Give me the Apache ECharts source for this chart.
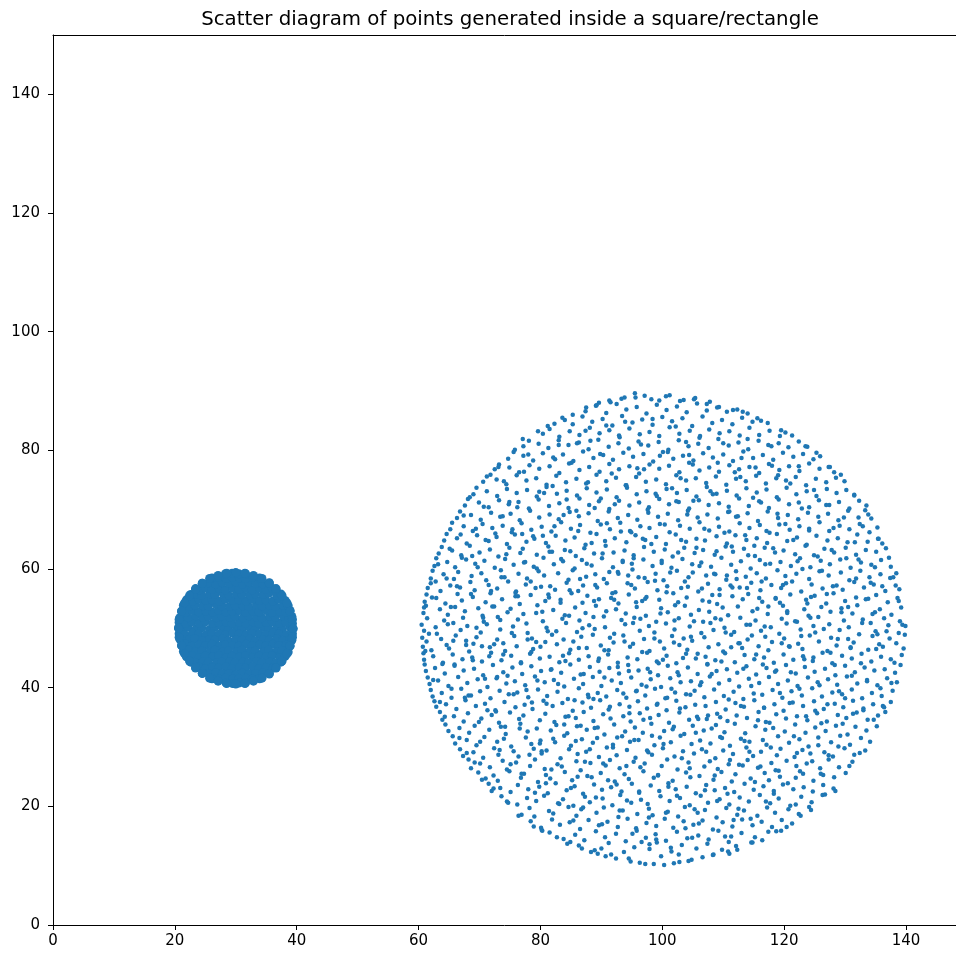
<!DOCTYPE html>
<html><head><meta charset="utf-8">
<script src="https://cdn.jsdelivr.net/npm/echarts@6/dist/echarts.min.js"></script>
<style>html,body{margin:0;padding:0;background:#fff}#c{width:956px;height:955px}</style>
</head><body><div id="c"></div>
<script>
const titleText = 'Scatter diagram of points generated inside a square/rectangle';
const xTicks = [0,20,40,60,80,100,120,140];
const yTicks = [0,20,40,60,80,100,120,140];

// dense disc around (30, 50)
const smallCircle = [
[20.6,50.1],[21.3,49.8],[22.2,50.2],[23.5,49.9],[24.4,50.1],[25.7,49.8],[26.6,50.2],[27.9,50.0],[28.8,49.8],[30.1,50.2],[31.0,49.9],[32.3,50.1],[33.2,49.8],[34.5,50.2],[35.4,49.9],[36.7,50.1],[37.6,49.8],[38.9,50.2],[39.4,49.9],
[20.7,51.0],[21.8,50.8],[22.8,51.1],[24.0,50.9],[25.0,51.1],[26.2,50.8],[27.2,51.0],[28.4,51.1],[29.4,50.8],[30.6,51.0],[31.6,50.9],[32.8,51.1],[33.8,50.8],[35.0,51.0],[36.0,51.1],[37.2,50.9],[38.2,51.0],[39.3,50.8],
[20.7,49.1],[21.7,48.9],[22.9,49.2],[23.9,49.0],[25.1,48.9],[26.1,49.1],[27.3,49.0],[28.3,48.9],[29.5,49.2],[30.5,49.0],[31.7,48.9],[32.7,49.1],[33.9,49.0],[34.9,48.9],[36.1,49.2],[37.1,49.0],[38.3,48.9],[39.3,49.1],
[20.8,51.8],[21.3,52.0],[22.2,51.8],[23.4,52.1],[24.6,51.9],[25.5,52.0],[26.8,51.8],[27.7,52.1],[29.0,51.9],[29.9,52.0],[31.2,51.8],[32.1,52.1],[33.4,51.9],[34.3,51.8],[35.6,52.0],[36.5,51.9],[37.8,52.1],[38.7,51.8],[39.2,52.0],
[20.8,48.2],[21.1,47.9],[22.4,48.1],[23.3,48.2],[24.5,47.9],[25.7,48.1],[26.6,48.0],[27.9,48.2],[28.8,47.9],[30.0,48.1],[31.0,48.0],[32.3,48.2],[33.2,47.9],[34.5,48.1],[35.5,48.0],[36.7,48.2],[37.7,47.9],[38.9,48.1],[39.2,48.0],
[21.1,52.9],[21.8,52.7],[22.9,53.0],[23.9,52.8],[25.1,52.9],[26.2,52.7],[27.2,53.0],[28.4,52.8],[29.4,52.9],[30.6,53.0],[31.6,52.7],[32.8,52.9],[33.8,52.8],[35.0,53.0],[36.0,52.7],[37.2,52.9],[38.2,52.8],[38.9,53.0],
[21.1,47.1],[21.7,47.3],[22.8,47.0],[24.0,47.2],[25.0,47.1],[26.1,47.3],[27.3,47.0],[28.3,47.2],[29.5,47.1],[30.5,47.0],[31.7,47.3],[32.7,47.1],[33.9,47.2],[34.9,47.0],[36.1,47.3],[37.1,47.1],[38.3,47.2],[38.9,47.0],
[21.4,53.9],[22.4,53.7],[23.3,53.9],[24.6,53.8],[25.5,53.7],[26.8,54.0],[27.7,53.8],[29.0,53.7],[29.9,53.9],[31.2,53.8],[32.1,53.7],[33.4,54.0],[34.3,53.8],[35.6,53.9],[36.5,53.7],[37.8,53.9],[38.6,53.8],
[21.4,46.1],[22.2,46.3],[23.5,46.1],[24.4,46.2],[25.7,46.0],[26.6,46.3],[27.9,46.1],[28.8,46.2],[30.1,46.0],[31.0,46.3],[32.3,46.1],[33.2,46.2],[34.5,46.0],[35.4,46.3],[36.7,46.1],[37.6,46.2],[38.6,46.0],
[21.9,54.8],[22.9,54.6],[23.9,54.9],[25.1,54.7],[26.1,54.8],[27.3,54.6],[28.3,54.9],[29.5,54.7],[30.5,54.8],[31.7,54.6],[32.7,54.9],[33.9,54.7],[34.9,54.8],[36.1,54.6],[37.1,54.9],[38.1,54.7],
[21.9,45.2],[22.8,45.4],[24.0,45.1],[25.0,45.3],[26.2,45.2],[27.2,45.4],[28.4,45.1],[29.4,45.3],[30.6,45.2],[31.6,45.4],[32.8,45.1],[33.8,45.3],[35.0,45.2],[36.0,45.4],[37.2,45.1],[38.1,45.3],
[22.6,55.7],[23.5,55.8],[24.4,55.6],[25.7,55.8],[26.6,55.7],[27.9,55.9],[28.8,55.6],[30.1,55.8],[31.0,55.7],[32.3,55.6],[33.2,55.8],[34.5,55.7],[35.4,55.9],[36.7,55.6],[37.4,55.8],
[22.6,44.3],[23.3,44.2],[24.6,44.4],[25.5,44.3],[26.8,44.1],[27.7,44.3],[29.0,44.4],[29.9,44.2],[31.2,44.3],[32.1,44.1],[33.4,44.4],[34.3,44.2],[35.6,44.3],[36.5,44.1],[37.4,44.3],
[23.4,56.7],[24.0,56.5],[25.1,56.8],[26.1,56.6],[27.3,56.7],[28.3,56.5],[29.5,56.8],[30.5,56.6],[31.7,56.7],[32.7,56.5],[33.9,56.8],[34.9,56.6],[36.0,56.7],[36.6,56.6],
[23.4,43.3],[23.9,43.5],[25.0,43.2],[26.2,43.4],[27.2,43.3],[28.4,43.5],[29.4,43.2],[30.6,43.4],[31.6,43.3],[32.8,43.5],[33.8,43.2],[35.0,43.4],[36.1,43.3],[36.6,43.4],
[24.5,57.6],[25.6,57.7],[26.7,57.5],[27.8,57.7],[28.9,57.6],[30.0,57.8],[31.1,57.5],[32.2,57.7],[33.3,57.6],[34.4,57.5],[35.5,57.7],
[24.5,42.4],[25.6,42.3],[26.7,42.5],[27.8,42.3],[28.9,42.4],[30.0,42.2],[31.1,42.5],[32.2,42.3],[33.3,42.4],[34.4,42.5],[35.5,42.3],
[26.1,58.5],[27.2,58.6],[28.4,58.4],[29.4,58.6],[30.6,58.5],[31.6,58.4],[32.8,58.6],[33.9,58.5],
[26.1,41.5],[27.3,41.4],[28.3,41.6],[29.5,41.4],[30.5,41.5],[31.7,41.6],[32.7,41.4],[33.9,41.5],
[28.3,59.2],[29.4,59.3],[30.5,59.2],[31.6,59.2],
[28.4,40.8],[29.5,40.7],[30.6,40.8],[31.6,40.8],
[39.4,50.0],[39.3,51.5],[38.9,52.9],[38.4,54.3],[37.6,55.5],[36.6,56.7],[35.5,57.6],[34.3,58.4],[32.9,58.9],[31.5,59.3],[30.0,59.4],[28.5,59.3],[27.1,58.9],[25.7,58.4],[24.5,57.6],[23.4,56.6],[22.4,55.5],[21.6,54.3],[21.1,52.9],[20.7,51.5],
[20.6,50.0],[20.7,48.5],[21.1,47.1],[21.6,45.7],[22.4,44.5],[23.4,43.4],[24.5,42.4],[25.7,41.6],[27.1,41.1],[28.5,40.7],[30.0,40.6],[31.5,40.7],[32.9,41.1],[34.3,41.6],[35.5,42.4],[36.6,43.3],[37.6,44.5],[38.4,45.7],[38.9,47.1],[39.3,48.5]
];

// sparse disc around (100, 50), read row by row
const bigCircle = [
[97.2,10.3],[101.9,10.4],[94.5,11.2],[104.8,11.0],[108.3,11.8],[91.6,11.9],[99.8,11.6],[102.7,11.9],[111.0,12.0],[89.4,12.0],
[86.3,13.4],[88.9,12.6],[91.2,13.8],[93.7,12.3],[95.4,13.1],[97.9,12.8],[99.1,13.9],[101.5,12.4],[103.2,13.5],[105.6,12.9],[107.4,13.7],[109.8,12.7],[112.1,13.3],[114.6,13.9],[84.9,14.0],[96.6,14.0],[110.9,14.0],[90.0,12.9],
[81.5,15.6],[83.8,14.5],[85.7,15.2],[87.2,14.3],[89.1,15.8],[90.6,14.8],[92.4,15.4],[94.0,14.1],[95.8,15.9],[97.3,14.7],[98.9,15.3],[100.6,14.2],[102.4,15.7],[104.1,14.6],[105.9,15.1],[107.6,14.4],[109.2,15.9],[111.3,14.9],[113.0,15.5],[115.2,14.8],[117.4,15.7],[119.5,15.9],[80.2,16.0],
[78.4,17.5],[80.1,16.4],[81.9,17.8],[83.2,16.9],[84.8,17.3],[86.5,16.2],[87.9,17.7],[89.6,16.8],[91.0,17.4],[92.7,16.5],[94.3,17.9],[95.7,16.3],[97.4,17.2],[99.0,16.7],[100.4,17.9],[101.8,16.4],[103.5,17.5],[105.1,16.9],[106.6,17.6],[108.3,16.1],[109.9,17.3],[111.5,16.6],[113.1,17.8],[114.8,16.8],[116.3,17.4],[118.0,16.5],[119.6,17.7],[121.3,17.1],
[76.9,18.6],[78.2,19.7],[79.0,18.3],[81.4,19.2],[82.1,18.8],[84.6,19.9],[85.9,18.4],[86.7,19.5],[89.2,18.9],[90.4,19.8],[92.8,18.2],[93.5,19.3],[95.9,18.7],[97.8,19.6],[98.4,18.5],[100.9,19.1],[102.6,18.3],[103.7,19.9],[105.8,18.9],[107.0,19.4],[108.9,18.1],[110.5,19.7],[112.3,18.6],[113.4,19.3],[115.6,18.4],[117.2,19.8],[118.5,18.9],[120.7,19.5],[122.4,18.7],[124.1,19.9],
[74.5,20.8],[73.6,21.7],[76.2,20.3],[77.8,21.4],[79.3,20.9],[80.6,21.8],[82.9,20.5],[83.7,21.2],[85.4,20.1],[87.3,21.6],[88.1,20.7],[90.2,21.3],[91.8,20.2],[93.1,21.9],[94.9,20.6],[96.5,21.1],[97.6,20.4],[99.7,21.7],[101.2,20.9],[102.9,21.4],[104.5,20.2],[106.3,21.8],[107.5,20.6],[109.4,21.2],[111.0,20.3],[112.7,21.5],[114.2,20.8],[116.0,21.9],[117.7,20.5],[119.1,21.3],[121.0,20.1],[122.8,21.6],[124.5,20.7],[126.3,21.9],
[72.0,22.6],[71.5,23.8],[73.4,23.1],[75.1,22.4],[76.3,23.6],[78.0,22.9],[79.8,23.3],[81.2,22.2],[82.5,23.9],[84.3,22.7],[85.6,23.4],[87.0,22.1],[88.8,23.7],[90.1,22.8],[91.6,23.2],[93.3,22.5],[95.0,23.8],[96.2,22.3],[98.1,23.5],[99.5,22.6],[101.0,23.9],[102.2,22.9],[104.0,23.3],[105.5,22.2],[107.2,23.6],[108.6,22.7],[110.3,23.1],[111.8,22.4],[113.5,23.8],[115.0,22.8],[116.6,23.4],[118.3,22.1],[119.8,23.7],[121.5,22.9],[123.2,23.2],[124.7,22.5],[126.4,23.6],[128.1,23.0],
[70.4,24.5],[69.8,25.7],[72.3,25.2],[73.0,24.3],[74.9,25.9],[76.8,24.8],[77.3,25.5],[79.6,24.1],[80.9,25.3],[81.6,24.7],[84.0,25.8],[85.2,24.4],[87.7,25.1],[88.4,24.9],[89.9,25.6],[92.2,24.2],[93.8,25.4],[94.5,24.6],[96.9,25.9],[98.6,24.8],[99.3,25.2],[101.7,24.3],[103.9,25.7],[104.6,24.9],[106.1,25.1],[108.4,24.5],[109.7,25.8],[111.4,24.2],[112.0,25.4],[114.5,24.7],[116.8,25.6],[117.5,24.4],[119.3,25.0],[121.9,24.8],[122.6,25.9],[124.8,24.3],[126.0,25.5],[128.2,24.9],[130.1,25.6],
[68.6,26.4],[68.2,27.9],[70.1,27.2],[71.7,26.6],[73.8,27.7],[74.5,26.2],[76.0,27.4],[78.3,26.8],[79.1,27.9],[80.7,26.3],[82.8,27.1],[83.5,26.7],[85.9,27.6],[86.6,26.1],[88.2,27.3],[90.7,26.9],[91.4,27.8],[93.0,26.4],[95.3,27.5],[96.4,26.6],[97.1,27.2],[99.9,26.8],[100.8,27.9],[102.5,26.2],[104.3,27.4],[106.9,26.7],[107.8,27.6],[109.1,26.3],[110.9,27.1],[113.2,26.9],[114.0,27.8],[115.7,26.5],[117.9,27.3],[118.6,26.1],[120.4,27.7],[122.0,26.8],[123.7,27.2],[125.9,26.4],[127.3,27.9],[129.0,26.6],[131.2,27.5],
[67.3,28.5],[66.8,29.6],[69.0,29.1],[70.6,28.2],[72.4,29.8],[73.1,28.7],[75.6,29.3],[76.4,28.4],[78.9,29.7],[80.2,28.9],[81.0,29.4],[83.3,28.1],[84.7,29.6],[86.1,28.8],[87.5,29.2],[89.6,28.3],[90.9,29.9],[92.5,28.6],[94.2,29.5],[95.6,28.2],[97.7,29.1],[98.3,28.7],[100.1,29.8],[102.0,28.4],[103.4,29.3],[105.2,28.9],[106.5,29.6],[108.7,28.1],[110.0,29.4],[111.6,28.8],[113.8,29.9],[114.9,28.5],[116.2,29.2],[118.8,28.6],[119.4,29.7],[121.7,28.3],[123.0,29.5],[124.3,28.9],[126.6,29.1],[128.0,28.4],[129.9,29.8],[131.5,28.7],[133.3,29.4],
[66.0,30.6],[65.6,31.8],[67.9,31.2],[69.5,30.3],[70.8,31.7],[72.9,30.9],[74.0,31.4],[75.2,30.1],[77.6,31.6],[78.5,30.5],[80.0,31.1],[82.4,30.8],[83.9,31.9],[85.0,30.2],[86.8,31.3],[88.6,30.7],[89.3,31.5],[91.9,30.4],[93.4,31.8],[94.7,30.9],[96.1,31.2],[98.7,30.3],[99.6,31.6],[101.4,30.8],[103.0,31.9],[104.8,30.5],[106.2,31.1],[107.9,30.6],[109.5,31.7],[111.1,30.2],[112.9,31.4],[114.3,30.9],[116.5,31.2],[117.1,30.4],[119.0,31.8],[120.8,30.7],[122.5,31.3],[124.0,30.1],[125.6,31.6],[127.7,30.8],[129.2,31.9],[130.8,30.4],[132.6,31.5],[134.1,30.9],
[64.9,32.7],[64.4,33.8],[66.7,33.2],[68.3,32.4],[69.2,33.6],[71.6,32.9],[73.5,33.4],[74.3,32.2],[76.7,33.9],[77.9,32.6],[79.4,33.1],[81.7,32.8],[82.6,33.7],[84.4,32.3],[86.0,33.5],[87.6,32.9],[88.9,33.2],[90.5,32.1],[92.1,33.8],[93.9,32.6],[95.5,33.3],[96.8,32.4],[98.2,33.9],[100.3,32.7],[101.9,33.4],[103.6,32.2],[105.0,33.6],[106.8,32.8],[108.1,33.1],[110.2,32.5],[111.9,33.9],[113.6,32.3],[115.3,33.5],[116.9,32.9],[118.2,33.2],[120.1,32.6],[121.8,33.8],[123.5,32.4],[125.1,33.3],[126.8,32.7],[128.5,33.6],[130.4,32.1],[131.7,33.4],[133.5,32.8],[135.2,33.5],
[63.9,34.6],[63.5,35.9],[65.8,35.2],[67.4,34.3],[68.1,35.7],[70.3,34.8],[72.0,35.4],[73.2,34.1],[75.0,35.8],[76.5,34.7],[77.2,35.3],[79.9,34.5],[80.8,35.6],[82.3,34.2],[84.1,35.1],[85.8,34.9],[87.1,35.9],[88.7,34.4],[90.3,35.5],[91.5,34.8],[93.6,35.2],[94.8,34.3],[96.3,35.7],[98.0,34.9],[99.4,35.4],[101.1,34.1],[102.8,35.8],[104.4,34.6],[105.7,35.1],[107.3,34.7],[109.0,35.6],[110.7,34.4],[112.2,35.3],[113.9,34.9],[115.8,35.9],[117.0,34.2],[118.7,35.5],[120.3,34.8],[122.1,35.2],[123.8,34.5],[125.4,35.7],[127.0,34.3],[128.8,35.4],[130.2,34.9],[131.9,35.8],[133.7,34.6],[135.4,35.3],[136.6,35.9],
[62.9,36.8],[62.6,37.7],[64.5,37.2],[66.2,36.4],[67.7,37.9],[69.4,36.9],[70.9,37.3],[72.6,36.2],[74.1,37.6],[75.9,36.7],[77.4,37.1],[78.7,36.4],[80.5,37.8],[82.0,36.9],[83.6,37.4],[85.3,36.1],[86.9,37.5],[88.3,36.6],[89.8,37.9],[91.2,36.3],[93.0,37.2],[94.6,36.8],[96.0,37.7],[97.5,36.5],[99.2,37.3],[100.7,36.2],[102.3,37.8],[103.8,36.7],[105.4,37.1],[107.1,36.9],[108.8,37.6],[110.4,36.3],[112.0,37.4],[113.4,36.8],[115.1,37.9],[116.7,36.6],[118.4,37.2],[119.9,36.1],[121.4,37.5],[123.1,36.9],[124.9,37.7],[126.5,36.4],[128.3,37.3],[129.7,36.7],[131.3,37.8],[133.0,36.5],[134.6,37.2],[136.2,36.9],[137.5,37.6],
[62.3,38.5],[62.0,39.6],[63.8,39.1],[65.4,38.3],[67.0,39.8],[68.6,38.7],[70.1,39.4],[71.8,38.2],[73.3,39.5],[74.8,38.9],[76.2,39.2],[78.0,38.4],[79.6,39.7],[81.1,38.6],[82.8,39.3],[84.5,38.1],[86.3,39.9],[87.8,38.8],[89.4,39.1],[90.8,38.5],[92.6,39.6],[94.1,38.3],[95.7,39.4],[97.2,38.7],[98.8,39.8],[100.5,38.2],[102.1,39.2],[103.9,38.9],[105.3,39.5],[106.9,38.4],[108.5,39.7],[110.1,38.6],[111.7,39.3],[113.3,38.1],[115.0,39.0],[116.4,38.8],[118.1,39.6],[119.7,38.3],[121.2,39.4],[122.9,38.7],[124.6,39.9],[126.2,38.5],[127.9,39.2],[129.5,38.9],[131.1,39.7],[132.8,38.2],[134.4,39.1],[136.0,38.6],[137.8,39.5],
[61.8,40.6],[61.5,41.7],[63.2,41.2],[64.9,40.3],[66.5,41.8],[68.0,40.8],[69.7,41.4],[71.3,40.1],[72.8,41.6],[74.4,40.7],[75.8,41.1],[77.5,40.4],[79.1,41.9],[80.7,40.9],[82.2,41.3],[83.9,40.2],[85.5,41.5],[87.0,40.6],[88.6,41.8],[90.0,40.3],[91.7,41.2],[93.2,40.8],[94.9,41.7],[96.6,40.5],[98.1,41.4],[99.8,40.1],[101.3,41.6],[103.0,40.9],[104.7,41.1],[106.2,40.4],[107.8,41.9],[109.3,40.7],[111.0,41.3],[112.6,40.2],[114.2,41.5],[115.9,40.8],[117.5,41.8],[119.0,40.6],[120.6,41.2],[122.2,40.3],[123.9,41.7],[125.5,40.9],[127.2,41.4],[128.7,40.5],[130.3,41.9],[132.0,40.7],[133.6,41.1],[135.3,40.4],[136.9,41.6],[138.5,40.9],
[61.2,42.8],[61.0,43.9],[62.7,43.3],[64.3,42.4],[65.9,43.7],[67.4,42.9],[69.1,43.2],[70.6,42.1],[72.2,43.8],[73.9,42.6],[75.4,43.4],[77.0,42.3],[78.5,43.6],[80.1,42.8],[81.8,43.1],[83.4,42.5],[84.9,43.9],[86.6,42.2],[88.1,43.5],[89.7,42.7],[91.3,43.3],[92.9,42.4],[94.4,43.8],[96.1,42.9],[97.6,43.2],[99.3,42.1],[100.9,43.7],[102.5,42.6],[104.2,43.4],[105.8,42.3],[107.4,43.9],[108.9,42.8],[110.6,43.1],[112.3,42.5],[113.8,43.6],[115.4,42.2],[117.1,43.3],[118.7,42.9],[120.3,43.8],[121.9,42.4],[123.4,43.5],[125.0,42.7],[126.7,43.2],[128.4,42.1],[130.0,43.7],[131.6,42.6],[133.2,43.4],[134.8,42.9],[136.5,43.1],[138.2,42.5],[139.1,43.8],
[60.9,44.7],[60.8,45.8],[62.4,45.3],[64.0,44.2],[65.6,45.6],[67.2,44.8],[68.8,45.1],[70.4,44.4],[71.9,45.9],[73.6,44.6],[75.2,45.4],[76.8,44.1],[78.3,45.7],[79.9,44.9],[81.5,45.2],[83.1,44.3],[84.7,45.8],[86.3,44.7],[87.9,45.3],[89.5,44.5],[91.1,45.6],[92.7,44.2],[94.3,45.1],[95.9,44.8],[97.5,45.9],[99.1,44.4],[100.7,45.4],[102.3,44.1],[103.9,45.7],[105.5,44.9],[107.1,45.2],[108.7,44.6],[110.3,45.8],[111.9,44.3],[113.5,45.5],[115.1,44.8],[116.7,45.1],[118.3,44.2],[119.9,45.6],[121.5,44.7],[123.1,45.3],[124.7,44.5],[126.3,45.9],[127.9,44.1],[129.5,45.4],[131.1,44.9],[132.7,45.7],[134.3,44.4],[135.9,45.2],[137.5,44.8],[139.3,45.5],
[60.7,46.9],[61.3,47.8],[62.1,46.3],[64.6,47.2],[65.0,46.6],[67.8,47.9],[68.3,46.1],[69.0,47.4],[71.7,46.8],[73.9,47.5],[74.2,46.2],[76.1,47.0],[78.8,46.5],[79.3,47.7],[80.0,46.9],[82.7,47.3],[84.9,46.4],[85.4,47.8],[87.6,46.7],[89.9,47.1],[90.5,46.3],[92.0,47.6],[94.7,46.9],[95.2,47.4],[97.9,46.2],[99.6,47.8],[100.3,46.6],[102.8,47.2],[104.1,46.4],[104.9,47.9],[107.6,46.8],[109.2,47.3],[110.0,46.1],[112.5,47.5],[113.1,46.7],[115.8,47.0],[117.4,46.3],[118.0,47.7],[120.9,46.9],[122.3,47.4],[123.0,46.5],[125.7,47.8],[127.1,46.2],[128.6,47.1],[130.9,46.8],[131.4,47.6],[133.8,46.4],[135.6,47.3],[136.2,46.9],[138.4,47.5],[139.6,46.6],
[60.6,48.4],[60.9,49.6],[63.0,49.1],[63.7,48.2],[66.1,48.8],[66.9,49.7],[69.5,48.5],[70.2,49.3],[72.9,48.1],[73.4,49.8],[75.7,48.7],[77.9,49.2],[78.6,48.3],[81.2,49.5],[81.9,48.9],[83.8,48.1],[86.0,49.4],[86.7,48.6],[88.9,49.9],[91.4,48.4],[92.1,49.1],[93.6,48.8],[96.3,49.6],[97.0,48.2],[98.7,49.3],[101.6,48.7],[102.0,49.8],[103.5,48.3],[106.4,49.2],[106.9,48.5],[108.4,49.7],[111.3,48.9],[111.8,49.4],[114.0,48.1],[116.2,49.6],[116.9,48.6],[119.2,49.1],[120.0,48.3],[122.7,49.8],[124.2,48.8],[125.1,49.3],[127.7,48.4],[129.1,49.7],[130.5,48.2],[132.3,49.0],[134.5,48.7],[135.0,49.5],[137.3,48.3],[138.8,49.2],[139.8,48.9],
[60.5,50.6],[61.4,51.7],[62.8,50.2],[64.2,51.3],[65.7,50.9],[67.3,51.8],[68.0,50.4],[70.7,51.1],[71.2,50.7],[73.0,51.9],[75.5,50.3],[76.3,51.5],[77.7,50.8],[80.4,51.2],[81.0,50.1],[83.6,51.6],[84.2,50.9],[86.4,51.3],[88.0,50.5],[88.7,51.9],[90.6,50.2],[93.3,51.4],[93.9,50.7],[95.4,51.8],[97.8,50.4],[99.0,51.1],[100.6,50.8],[102.7,51.7],[104.5,50.3],[105.2,51.2],[107.9,50.9],[109.6,51.5],[110.2,50.1],[112.8,51.8],[114.4,50.6],[115.3,51.3],[117.8,50.2],[119.6,51.6],[120.4,50.8],[122.1,51.1],[124.8,50.4],[125.6,51.9],[127.4,50.7],[129.8,51.3],[130.6,50.2],[132.9,51.5],[134.2,50.9],[136.4,51.7],[137.1,50.5],[139.0,51.2],[139.9,50.4],
[60.8,52.6],[61.2,53.8],[63.5,53.2],[64.8,52.3],[65.3,53.6],[67.6,52.9],[69.8,53.4],[70.5,52.1],[72.4,53.7],[74.6,52.7],[75.1,53.3],[77.2,52.4],[79.5,53.9],[80.3,52.8],[82.1,53.1],[84.0,52.2],[85.7,53.5],[87.4,52.6],[89.1,53.8],[90.8,52.9],[92.4,53.2],[94.0,52.5],[95.8,53.6],[97.3,52.1],[99.8,53.4],[100.9,52.7],[102.1,53.9],[104.7,52.3],[106.0,53.1],[107.7,52.8],[109.9,53.5],[110.8,52.2],[112.4,53.7],[114.8,52.9],[115.6,53.3],[117.3,52.4],[119.8,53.8],[120.5,52.6],[123.3,53.2],[124.0,52.1],[126.1,53.6],[127.6,52.8],[129.4,53.4],[131.2,52.5],[132.0,53.9],[134.9,52.7],[135.7,53.2],[137.6,52.3],[139.2,53.5],
[61.0,54.5],[61.3,55.7],[62.9,55.1],[64.4,54.2],[66.4,55.8],[67.1,54.7],[68.9,55.3],[71.0,54.4],[71.8,55.9],[73.7,54.9],[75.9,55.4],[76.6,54.1],[78.4,55.6],[80.8,54.6],[81.4,55.2],[83.3,54.8],[85.1,55.9],[86.9,54.3],[87.7,55.5],[89.6,54.9],[91.6,55.1],[92.8,54.2],[94.5,55.7],[96.7,54.6],[97.4,55.3],[99.5,54.8],[101.8,55.9],[102.6,54.4],[104.0,55.2],[106.6,54.7],[108.2,55.6],[109.0,54.1],[111.5,55.4],[113.2,54.9],[114.1,55.8],[116.4,54.5],[118.6,55.1],[119.3,54.3],[121.0,55.7],[123.6,54.8],[124.4,55.3],[126.9,54.2],[128.1,55.9],[130.0,54.6],[131.8,55.2],[133.4,54.9],[135.1,55.6],[137.0,54.4],[138.6,55.1],
[61.5,56.8],[62.0,57.6],[63.6,56.3],[65.2,57.2],[66.8,56.9],[68.5,57.8],[69.2,56.4],[71.5,57.3],[72.9,56.7],[74.7,57.9],[76.0,56.2],[77.6,57.4],[79.2,56.8],[81.6,57.1],[82.4,56.5],[84.3,57.7],[86.2,56.3],[87.0,57.2],[89.3,56.9],[90.9,57.6],[92.3,56.1],[94.9,57.3],[95.5,56.7],[97.6,57.8],[99.2,56.4],[100.8,57.1],[103.1,56.8],[103.7,57.9],[105.9,56.2],[107.5,57.5],[109.4,56.6],[111.2,57.2],[112.7,56.9],[114.6,57.7],[116.1,56.4],[117.9,57.3],[119.5,56.8],[121.3,57.9],[122.8,56.2],[124.5,57.4],[126.3,56.7],[128.0,57.1],[129.6,56.5],[131.5,57.8],[133.1,56.9],[134.7,57.4],[136.6,56.3],[138.3,57.2],[138.9,56.6],
[62.0,58.4],[62.3,59.7],[64.1,59.1],[65.8,58.3],[66.5,59.5],[68.7,58.8],[70.3,59.3],[71.1,58.1],[73.5,59.8],[74.1,58.6],[76.4,59.2],[77.8,58.4],[79.7,59.6],[80.6,58.9],[82.9,59.3],[84.6,58.2],[85.3,59.8],[87.5,58.7],[89.0,59.1],[90.4,58.3],[92.7,59.5],[94.4,58.9],[95.1,59.9],[97.1,58.5],[98.9,59.2],[100.2,58.1],[102.4,59.7],[104.3,58.6],[105.0,59.4],[107.2,58.9],[108.7,59.1],[110.5,58.2],[112.1,59.6],[113.7,58.7],[115.5,59.3],[117.0,58.4],[118.9,59.8],[120.2,58.8],[122.0,59.2],[124.1,58.3],[125.8,59.6],[127.3,58.9],[129.3,59.4],[130.7,58.1],[132.5,59.7],[134.0,58.6],[135.8,59.1],[137.4,58.5],[138.4,59.3],
[62.6,60.5],[62.9,61.8],[64.7,61.2],[66.0,60.3],[67.8,61.6],[69.3,60.9],[70.8,61.4],[72.5,60.2],[74.2,61.7],[75.6,60.7],[77.3,61.1],[78.9,60.4],[80.5,61.9],[82.2,60.8],[83.7,61.3],[85.6,60.1],[86.8,61.5],[88.4,60.6],[90.1,61.8],[91.9,60.3],[93.5,61.2],[95.0,60.9],[96.9,61.6],[98.4,60.5],[99.9,61.4],[101.5,60.2],[103.3,61.7],[104.9,60.8],[106.4,61.1],[108.0,60.4],[109.7,61.9],[111.3,60.7],[112.9,61.3],[114.5,60.1],[116.0,61.5],[117.7,60.9],[119.4,61.2],[121.1,60.5],[122.6,61.8],[124.3,60.3],[126.0,61.4],[127.5,60.8],[129.2,61.6],[130.9,60.2],[132.6,61.1],[134.3,60.7],[135.9,61.5],[137.5,60.4],
[63.3,62.6],[63.8,63.7],[65.5,63.1],[67.0,62.3],[68.4,63.9],[70.0,62.8],[71.7,63.3],[73.1,62.1],[74.9,63.6],[76.7,62.7],[77.1,63.4],[79.4,62.4],[81.3,63.8],[81.9,62.9],[84.0,63.2],[85.8,62.2],[87.2,63.5],[88.8,62.6],[90.7,63.9],[92.0,62.8],[93.8,63.1],[95.3,62.3],[97.0,63.7],[98.6,62.9],[100.4,63.3],[101.7,62.1],[103.6,63.6],[105.3,62.7],[106.7,63.2],[108.6,62.4],[110.4,63.8],[111.6,62.9],[113.4,63.4],[115.2,62.2],[116.8,63.6],[118.5,62.8],[119.9,63.1],[121.8,62.5],[123.5,63.9],[124.9,62.3],[126.6,63.4],[128.2,62.8],[130.1,63.6],[131.8,62.4],[133.4,63.2],[135.1,62.9],[136.7,63.5],
[64.2,64.8],[64.6,65.9],[66.3,65.2],[67.9,64.3],[69.6,65.7],[71.0,64.9],[72.8,65.4],[74.5,64.2],[75.8,65.8],[77.7,64.6],[79.0,65.1],[80.9,64.4],[82.5,65.6],[84.1,64.8],[85.6,65.3],[87.4,64.1],[89.2,65.9],[90.6,64.7],[92.2,65.2],[94.1,64.5],[95.6,65.7],[97.2,64.9],[99.0,65.4],[100.6,64.2],[102.2,65.8],[103.9,64.6],[105.6,65.1],[107.0,64.8],[108.9,65.5],[110.6,64.3],[112.0,65.7],[113.8,64.9],[115.5,65.2],[117.2,64.4],[118.8,65.9],[120.5,64.7],[122.1,65.3],[123.7,64.1],[125.3,65.6],[127.1,64.8],[128.8,65.2],[130.4,64.5],[132.0,65.8],[133.7,64.6],[135.4,65.1],[136.1,64.3],
[65.2,66.7],[65.5,67.8],[67.4,67.2],[68.9,66.4],[70.5,67.6],[72.1,66.9],[73.8,67.3],[75.3,66.2],[76.9,67.7],[78.5,66.6],[80.2,67.1],[81.8,66.3],[83.4,67.9],[85.0,66.8],[86.5,67.4],[88.2,66.1],[89.9,67.5],[91.4,66.7],[93.1,67.8],[94.7,66.4],[96.4,67.2],[97.9,66.9],[99.6,67.6],[101.2,66.2],[102.9,67.3],[104.5,66.8],[106.1,67.9],[107.7,66.5],[109.3,67.1],[111.0,66.3],[112.7,67.7],[114.3,66.9],[116.0,67.4],[117.6,66.1],[119.2,67.5],[120.9,66.6],[122.5,67.2],[124.1,66.8],[125.8,67.9],[127.4,66.4],[129.1,67.3],[130.7,66.7],[132.4,67.6],[134.0,66.2],[135.3,67.0],
[66.3,68.6],[66.8,69.7],[68.6,69.1],[70.2,68.3],[71.9,69.5],[73.4,68.8],[75.1,69.3],[76.6,68.2],[78.3,69.8],[79.8,68.7],[81.5,69.2],[83.0,68.4],[84.8,69.6],[86.3,68.9],[87.9,69.4],[89.4,68.1],[91.2,69.7],[92.7,68.6],[94.4,69.1],[95.9,68.3],[97.7,69.5],[99.3,68.8],[100.9,69.3],[102.6,68.2],[104.2,69.8],[105.8,68.7],[107.4,69.2],[109.1,68.5],[110.8,69.6],[112.4,68.9],[114.0,69.4],[115.7,68.1],[117.3,69.7],[119.0,68.6],[120.6,69.1],[122.3,68.4],[123.9,69.5],[125.6,68.8],[127.2,69.3],[128.9,68.2],[130.5,69.8],[132.2,68.7],[133.8,69.2],[134.3,68.5],
[67.6,70.7],[68.1,71.8],[69.9,71.2],[71.5,70.4],[73.2,71.6],[74.8,70.9],[76.4,71.3],[78.1,70.2],[79.7,71.7],[81.4,70.6],[83.1,71.1],[84.6,70.3],[86.4,71.9],[88.0,70.8],[89.6,71.4],[91.3,70.1],[92.9,71.5],[94.6,70.7],[96.2,71.2],[97.8,70.4],[99.5,71.8],[101.1,70.9],[102.7,71.3],[104.4,70.2],[106.0,71.6],[107.6,70.8],[109.3,71.1],[110.9,70.5],[112.6,71.9],[114.2,70.6],[115.9,71.4],[117.5,70.3],[119.1,71.7],[120.8,70.9],[122.4,71.2],[124.1,70.4],[125.7,71.6],[127.4,70.8],[129.0,71.3],[130.7,70.2],[132.3,71.5],[133.5,70.7],
[69.0,72.6],[69.5,73.7],[71.2,73.1],[72.9,72.3],[74.5,73.5],[76.1,72.8],[77.8,73.3],[79.4,72.2],[81.0,73.8],[82.7,72.7],[84.3,73.2],[86.0,72.4],[87.6,73.6],[89.2,72.9],[90.9,73.4],[92.5,72.1],[94.2,73.7],[95.8,72.6],[97.4,73.1],[99.1,72.3],[100.7,73.5],[102.4,72.8],[104.0,73.3],[105.6,72.2],[107.3,73.8],[108.9,72.7],[110.6,73.2],[112.2,72.4],[113.8,73.6],[115.5,72.9],[117.1,73.4],[118.8,72.1],[120.4,73.7],[122.0,72.6],[123.7,73.1],[125.3,72.3],[127.0,73.5],[128.6,72.8],[130.2,73.3],[131.5,72.5],
[70.6,74.7],[71.2,75.6],[72.8,75.1],[74.4,74.3],[76.1,75.8],[77.7,74.9],[79.3,75.3],[81.0,74.2],[82.6,75.7],[84.2,74.6],[85.9,75.2],[87.5,74.4],[89.2,75.9],[90.8,74.8],[92.4,75.4],[94.1,74.1],[95.7,75.5],[97.3,74.7],[99.0,75.1],[100.6,74.3],[102.3,75.8],[103.9,74.9],[105.5,75.3],[107.2,74.5],[108.8,75.6],[110.5,74.2],[112.1,75.2],[113.7,74.8],[115.4,75.7],[117.0,74.4],[118.7,75.3],[120.3,74.9],[121.9,75.5],[123.6,74.1],[125.2,75.2],[126.9,74.6],[128.5,75.4],[129.9,74.8],
[72.5,76.8],[73.2,77.6],[74.9,77.1],[76.5,76.3],[78.2,77.5],[79.8,76.9],[81.5,77.3],[83.1,76.2],[84.7,77.8],[86.4,76.7],[88.0,77.2],[89.7,76.4],[91.3,77.7],[92.9,76.8],[94.6,77.3],[96.2,76.1],[97.9,77.6],[99.5,76.9],[101.1,77.4],[102.8,76.3],[104.4,77.9],[106.1,76.6],[107.7,77.1],[109.3,76.4],[111.0,77.5],[112.6,76.8],[114.3,77.2],[115.9,76.2],[117.5,77.7],[119.2,76.7],[120.8,77.3],[122.5,76.5],[124.1,77.8],[125.8,76.9],[127.3,77.2],[128.2,76.3],
[74.7,78.6],[75.6,79.7],[77.2,79.1],[78.8,78.3],[80.4,79.5],[82.1,78.8],[83.7,79.3],[85.4,78.2],[87.0,79.8],[88.7,78.7],[90.3,79.2],[91.9,78.4],[93.6,79.6],[95.2,78.9],[96.9,79.4],[98.5,78.1],[100.1,79.7],[101.8,78.6],[103.4,79.1],[105.1,78.3],[106.7,79.5],[108.3,78.8],[110.0,79.3],[111.6,78.2],[113.3,79.8],[114.9,78.7],[116.5,79.2],[118.2,78.4],[119.8,79.6],[121.5,78.9],[123.1,79.4],[124.8,78.5],[125.9,79.0],
[77.2,80.7],[78.1,81.6],[79.7,81.1],[81.3,80.4],[83.0,81.7],[84.6,80.9],[86.3,81.3],[87.9,80.2],[89.5,81.8],[91.2,80.6],[92.8,81.2],[94.5,80.3],[96.1,81.5],[97.7,80.8],[99.4,81.4],[101.0,80.1],[102.7,81.7],[104.3,80.7],[105.9,81.1],[107.6,80.4],[109.2,81.9],[110.9,80.8],[112.5,81.3],[114.1,80.2],[115.8,81.6],[117.4,80.9],[119.1,81.2],[120.7,80.5],[122.4,81.5],[123.8,80.6],
[80.4,82.8],[81.5,83.6],[83.1,82.3],[84.8,83.2],[86.4,82.6],[88.1,83.8],[89.7,82.9],[91.3,83.4],[93.0,82.2],[94.6,83.7],[96.3,82.7],[97.9,83.1],[99.5,82.4],[101.2,83.9],[102.8,82.8],[104.5,83.3],[106.1,82.1],[107.7,83.5],[109.4,82.9],[111.0,83.2],[112.7,82.5],[114.3,83.8],[115.9,82.6],[117.6,83.3],[119.3,82.4],[120.2,83.0],
[84.0,85.1],[85.3,84.4],[86.9,85.7],[88.5,84.8],[90.2,85.3],[91.8,84.2],[93.4,85.8],[95.1,84.7],[96.7,85.2],[98.4,84.3],[100.0,85.6],[101.6,84.9],[103.3,85.4],[104.9,84.1],[106.6,85.7],[108.2,84.6],[109.8,85.1],[111.5,84.4],[113.1,85.5],[114.8,84.8],[116.2,85.0],[82.3,84.5],
[87.4,86.6],[89.1,87.5],[90.8,86.3],[92.5,87.8],[94.1,86.9],[95.8,87.3],[97.4,86.2],[99.1,87.7],[100.7,86.8],[102.4,87.4],[104.0,86.4],[105.7,87.9],[107.3,86.7],[109.0,87.2],[110.6,86.5],[112.3,86.9],[114.0,86.2],
[91.3,88.4],[95.5,89.6],[93.8,88.9],[98.2,88.6],[100.6,89.1],[102.9,88.3],[105.4,88.8],[107.8,88.2],[89.6,88.0]
];

// more points of the same disc, read column by column
const bigCircleExtra = [
[61.1,46.2],[60.9,53.5],[62.4,41.3],[62.8,57.9],[63.5,37.6],[63.2,60.8],[61.7,49.1],[63.9,44.0],[62.2,55.2],
[64.3,35.1],[65.1,63.4],[66.7,31.5],[67.4,69.0],[64.8,50.7],[65.9,43.9],[66.3,57.1],[67.8,47.2],[65.4,39.8],[67.1,61.9],[66.0,53.6],[64.6,58.4],[67.6,38.3],[65.7,47.9],[66.9,65.8],[67.9,29.0],
[68.4,72.1],[69.2,27.4],[70.6,51.8],[71.3,36.2],[68.9,44.6],[69.7,60.3],[71.8,75.9],[70.1,30.9],[71.5,64.7],[68.6,55.8],[70.9,41.5],[69.4,66.8],[71.0,24.7],[68.2,38.7],[70.4,47.0],[71.9,56.3],[69.9,34.2],[70.7,70.5],[68.8,62.2],[71.6,45.3],[69.5,50.1],
[72.3,23.0],[73.1,77.2],[74.7,20.6],[75.8,80.1],[72.9,41.8],[73.6,58.6],[74.2,33.4],[75.3,49.2],[72.6,66.0],[74.9,71.3],[73.3,29.5],[75.6,38.9],[72.1,53.7],[74.4,62.5],[75.1,27.1],[73.9,45.6],[72.7,36.0],[75.9,56.0],[74.0,74.8],[73.4,51.4],[75.4,66.7],[72.4,47.3],[74.6,42.0],[73.8,68.9],
[76.4,18.4],[77.1,81.9],[78.9,16.6],[79.6,83.2],[76.8,44.3],[77.5,61.2],[78.2,28.7],[79.3,52.6],[76.2,70.4],[78.6,37.5],[79.8,73.0],[77.9,48.1],[76.6,33.1],[78.4,57.9],[79.1,22.3],[77.3,76.4],[76.9,25.5],[78.8,65.5],[79.5,41.2],[77.7,39.6],[76.3,55.4],[78.0,79.3],[79.9,30.6],[77.0,65.9],[78.5,46.0],[79.4,60.1],
[80.3,15.9],[81.2,84.1],[82.7,14.8],[83.6,85.5],[80.8,47.7],[81.5,62.9],[82.1,31.4],[83.3,54.3],[80.6,72.8],[82.9,40.6],[83.8,69.1],[81.8,26.2],[80.1,57.0],[82.4,78.5],[83.1,20.4],[81.0,37.3],[82.6,49.5],[83.9,33.8],[80.4,65.6],[81.7,43.0],[83.4,61.7],[82.0,74.0],[80.9,23.9],[83.7,45.4],[81.3,55.7],[82.3,67.2],[80.2,29.3],[83.0,80.9],
[84.4,13.7],[85.3,86.0],[86.8,12.9],[87.5,87.2],[84.7,52.1],[85.6,37.9],[86.2,66.4],[87.3,27.5],[84.1,44.5],[86.5,58.3],[87.8,74.6],[85.0,23.1],[86.0,81.2],[84.9,63.0],[87.1,42.3],[85.8,31.0],[84.3,71.7],[86.9,50.0],[85.4,17.6],[87.6,60.9],[84.6,35.2],[86.3,46.7],[87.0,19.8],[85.1,77.9],[86.6,33.6],[84.8,56.4],[87.9,38.4],[85.9,69.8],[86.1,25.0],[87.4,83.3],
[88.3,12.3],[89.2,87.6],[90.7,11.6],[91.5,88.1],[88.6,48.9],[89.4,33.3],[90.2,62.6],[91.1,24.4],[88.9,70.3],[90.5,41.7],[91.8,55.9],[89.8,79.4],[88.1,29.6],[90.9,67.7],[89.0,57.3],[91.4,36.8],[88.4,64.4],[90.1,17.0],[91.7,76.1],[89.6,44.9],[88.7,38.1],[90.4,52.0],[91.2,46.3],[89.1,21.5],[90.8,84.2],[88.2,81.6],[91.9,29.9],[89.9,71.9],[90.3,27.2],[88.8,54.6],[91.3,59.5],
[92.4,11.2],[93.3,88.7],[94.8,10.7],[95.6,88.9],[92.7,43.5],[93.5,61.4],[94.1,26.8],[95.2,50.9],[92.2,70.9],[94.6,35.7],[95.9,77.0],[93.0,19.3],[94.3,57.6],[92.9,82.5],[95.4,31.2],[93.8,47.8],[92.5,23.7],[94.9,66.2],[93.6,39.0],[95.7,54.4],[92.1,54.8],[94.0,74.1],[95.1,15.4],[93.2,66.3],[94.5,42.8],[92.6,31.6],[95.8,39.5],[93.9,84.8],[92.8,59.2],[95.3,61.8],[94.2,21.0],
[96.3,10.5],[97.1,89.2],[98.6,10.3],[99.5,88.4],[96.7,46.0],[97.5,29.4],[98.2,64.2],[99.1,37.1],[96.1,58.6],[98.9,72.7],[97.8,18.1],[99.7,52.5],[96.5,81.0],[98.0,42.6],[97.2,55.0],[99.3,25.3],[96.9,34.6],[98.4,85.3],[99.9,61.0],[97.6,70.0],[96.2,22.5],[98.7,48.3],[97.0,76.8],[99.0,14.4],[96.8,65.1],[98.3,31.9],[99.6,79.1],[97.4,40.2],[96.4,51.6],[98.8,58.0],[97.9,13.6],[99.4,44.1],
[100.3,10.1],[101.2,89.3],[102.8,10.6],[103.5,88.5],[100.7,56.1],[101.5,39.8],[102.3,71.4],[103.2,28.1],[100.1,44.7],[102.6,62.8],[103.8,16.3],[101.0,23.3],[102.0,51.3],[100.9,79.7],[103.4,45.0],[101.7,33.0],[100.4,67.5],[102.9,36.5],[101.3,59.4],[103.0,75.3],[100.6,18.9],[102.2,84.0],[101.9,47.6],[103.7,53.8],[100.2,30.5],[102.4,21.8],[103.1,64.9],[101.6,73.6],[100.8,38.3],[102.7,42.1],[101.4,13.0],[103.9,81.4],
[104.3,10.8],[105.2,88.6],[106.6,11.4],[107.3,87.8],[104.7,48.6],[105.5,32.4],[106.1,60.5],[107.0,22.7],[104.1,69.2],[106.4,40.9],[107.7,54.5],[105.0,77.6],[104.5,26.4],[106.9,66.8],[105.8,45.7],[104.9,14.7],[107.5,35.3],[106.2,82.4],[104.2,57.0],[105.3,19.5],[107.9,73.1],[106.7,51.1],[105.6,63.6],[104.6,38.8],[107.2,29.2],[106.0,17.1],[105.1,71.5],[107.4,44.0],[104.4,79.2],[106.5,56.7],[105.9,34.7],
[108.4,11.9],[109.3,87.3],[110.8,12.4],[111.6,86.8],[108.7,51.7],[109.5,35.0],[110.2,66.1],[111.1,27.8],[108.1,42.3],[110.6,58.9],[111.9,76.3],[109.0,20.9],[110.0,81.2],[108.9,63.0],[111.3,46.8],[109.8,31.5],[108.3,72.6],[110.9,38.0],[109.4,55.6],[111.7,17.7],[108.6,25.2],[110.4,49.3],[111.0,69.7],[109.1,77.9],[110.7,22.1],[108.5,59.2],[111.5,56.9],[109.7,44.4],[110.3,14.9],[108.8,33.7],[111.4,63.8],
[112.3,12.7],[113.2,86.5],[114.8,13.9],[115.6,85.4],[112.7,47.5],[113.5,31.0],[114.1,62.3],[115.2,24.1],[112.1,68.8],[114.6,40.3],[115.9,55.1],[113.0,78.7],[112.5,19.6],[114.9,72.0],[113.8,50.6],[112.9,36.9],[115.4,45.6],[114.3,29.2],[112.2,58.3],[113.6,65.7],[115.7,34.5],[114.0,81.9],[112.6,27.0],[115.1,63.9],[113.3,43.2],[114.5,17.9],[112.8,75.5],[115.3,77.1],[113.9,56.8],[114.7,48.8],
[116.4,14.3],[117.3,84.6],[118.7,15.8],[119.5,83.4],[116.8,50.3],[117.6,34.1],[118.2,63.5],[119.1,26.0],[116.2,71.2],[118.5,42.7],[119.8,57.3],[117.0,20.8],[118.0,77.4],[116.9,60.8],[119.3,39.1],[117.8,29.9],[116.5,43.9],[118.9,69.3],[117.4,53.7],[119.6,47.5],[116.1,26.7],[118.3,22.6],[117.1,66.4],[119.0,75.8],[116.7,36.6],[118.6,55.0],[117.9,80.7],[116.3,57.9],
[120.4,16.5],[121.3,82.5],[122.7,18.4],[123.5,80.7],[120.8,47.0],[121.6,31.8],[122.2,61.3],[123.1,25.5],[120.2,67.6],[122.5,39.8],[123.8,54.2],[121.0,74.4],[120.6,23.9],[122.9,70.2],[121.8,51.2],[120.9,37.4],[123.3,44.8],[122.1,29.0],[120.3,57.6],[121.5,64.9],[123.6,35.2],[122.4,77.3],[121.1,42.6],[123.0,60.0],[120.5,52.9],[121.9,20.3],[122.8,48.7],
[124.4,19.4],[125.3,79.6],[126.7,22.0],[127.5,77.2],[124.8,45.1],[125.6,30.3],[126.2,59.7],[127.1,37.2],[124.1,66.5],[126.5,49.9],[127.8,63.2],[125.0,55.5],[124.6,27.6],[126.9,70.8],[125.8,40.4],[124.9,73.3],[127.3,28.6],[126.1,34.0],[124.3,51.8],[125.5,62.1],[127.6,45.9],[126.4,25.3],[125.1,36.1],[127.0,55.8],
[128.4,22.6],[129.3,75.9],[130.7,26.8],[131.5,72.4],[128.8,48.2],[129.6,33.9],[130.2,61.8],[131.1,42.0],[128.1,66.9],[130.5,53.6],[131.8,58.4],[129.0,39.4],[128.6,57.2],[130.9,46.7],[129.8,68.7],[128.9,30.1],[131.3,35.6],[130.0,38.2],[128.3,43.8],[129.4,52.7],[131.6,64.5],
[132.4,29.0],[133.3,69.9],[134.7,34.6],[135.5,65.1],[132.8,50.9],[133.6,41.3],[134.2,57.7],[135.1,46.5],[132.2,61.6],[134.5,52.4],[135.8,39.9],[133.0,36.2],[132.6,44.1],[134.9,60.3],[133.8,55.0],[132.9,67.2],[135.3,49.0],
[136.4,36.7],[137.2,61.9],[138.1,44.2],[138.8,54.6],[136.8,49.5],[137.6,40.8],[139.4,50.6],[136.1,57.1],[137.9,58.6]
];

const chart = echarts.init(document.getElementById('c'), null, {renderer: 'canvas'});
const font = 'DejaVu Sans';
function axis(ticks, margin, max) {
  return {
    type: 'value', min: 0, max: max, interval: 20,
    axisLine: {show: true, onZero: false, lineStyle: {color: '#000', width: 1}},
    axisTick: {show: true, inside: false, length: 5, customValues: ticks, lineStyle: {color: '#000', width: 1}},
    axisLabel: {show: true, customValues: ticks, margin: margin, color: '#000', fontFamily: font, fontSize: 15},
    splitLine: {show: false}
  };
}
const topSpine = {
  type: 'value', position: 'top', min: 0, max: 148.2,
  axisLine: {show: true, onZero: false, lineStyle: {color: '#000', width: 1}},
  axisTick: {show: false}, axisLabel: {show: false}, splitLine: {show: false}
};
chart.setOption({
  animation: false,
  backgroundColor: '#fff',
  title: {
    text: titleText, left: 510, top: 9.5, padding: 0, textAlign: 'center',
    textStyle: {fontFamily: font, fontSize: 19.8, fontWeight: 'normal', color: '#000'}
  },
  grid: {left: 53, right: 0, top: 35, bottom: 30, show: false, containLabel: false},
  xAxis: [axis(xTicks, 9, 148.2), topSpine],
  yAxis: axis(yTicks, 13, 150),
  series: [
    {type: 'scatter', xAxisIndex: 0, data: smallCircle, symbol: 'circle', symbolSize: 9, itemStyle: {color: '#1f77b4', opacity: 1}, silent: true},
    {type: 'scatter', xAxisIndex: 0, data: bigCircle.concat(bigCircleExtra), symbol: 'circle', symbolSize: 4.5, itemStyle: {color: '#1f77b4', opacity: 1}, silent: true, large: false, progressive: 0}
  ]
});
</script></body></html>
